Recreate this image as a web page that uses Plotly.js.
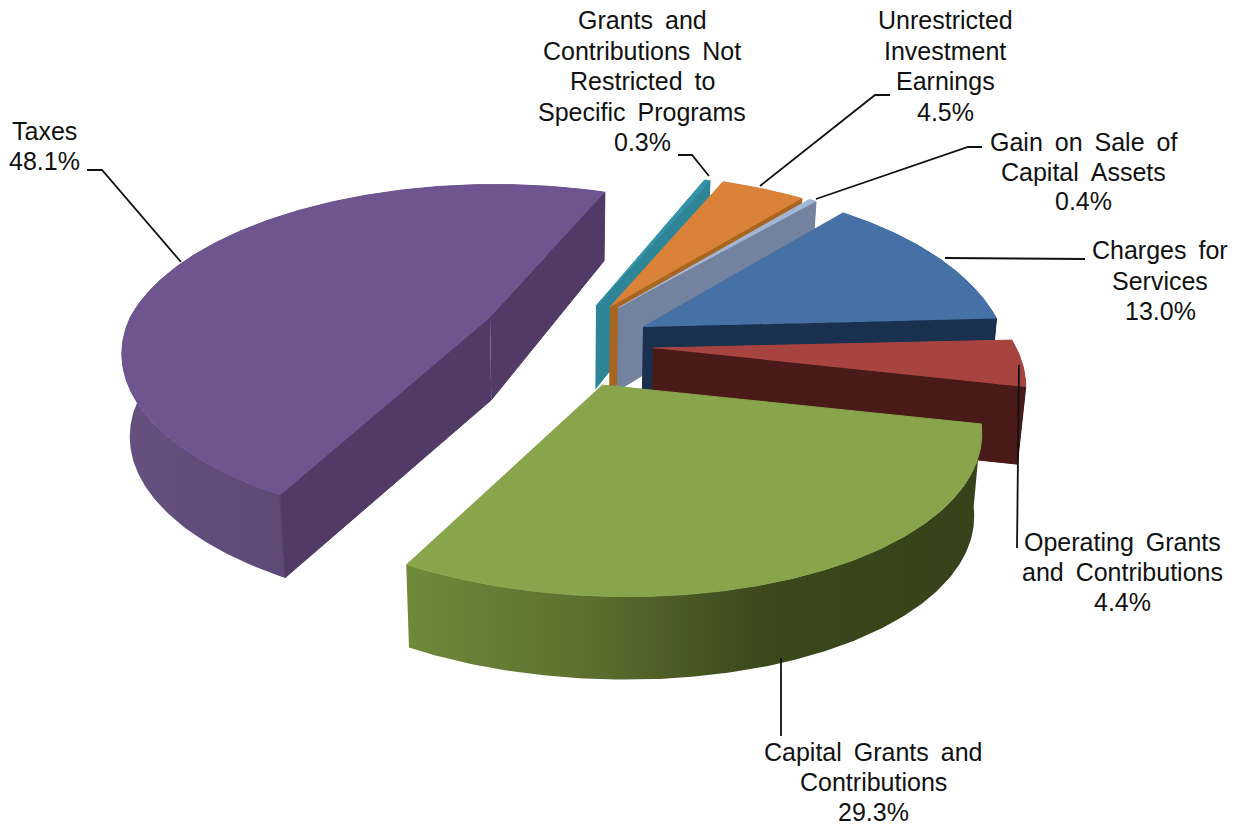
<!DOCTYPE html>
<html>
<head>
<meta charset="utf-8">
<script src="https://cdn.plot.ly/plotly-3.0.1.min.js"></script>
<style>html,body{margin:0;padding:0;background:#fff}#chart{width:1241px;height:826px}</style>
</head>
<body>
<div id="chart"></div>
<script>
// Revenue sources, clockwise from the top of the pie.
const categories = ['Charges for Services', 'Operating Grants and Contributions', 'Capital Grants and Contributions', 'Taxes', 'Grants and Contributions Not Restricted to Specific Programs', 'Unrestricted Investment Earnings', 'Gain on Sale of Capital Assets'];
const values = [13.0, 4.4, 29.3, 48.1, 0.3, 4.5, 0.4];

// Label wrapping, one entry per slice.
const labelLines = [['Charges for', 'Services'], ['Operating Grants', 'and Contributions'], ['Capital Grants and', 'Contributions'], ['Taxes'], ['Grants and', 'Contributions Not', 'Restricted to', 'Specific Programs'], ['Unrestricted', 'Investment', 'Earnings'], ['Gain on Sale of', 'Capital Assets']];
const labelCentreX = [1160, 1122, 873, 44, 642, 945, 1083];
const labelTopY = [250, 542, 752, 131, 20, 20, 142];
const labelLineGap = [30.5, 30, 30, 30, 30.5, 30.5, 29.5];

// Slice styling and explosion (screen offset of each wedge point from the pie centre).
const topColors = ['#4571a6', '#a84440', '#88a54b', '#6f558f', '#3193a9', '#d98238', '#a3b6d8'];
const wallColors = ['#19304f', '#4a1a18', '#56692c', '#513b66', '#2f8598', '#a8651f', '#73829f'];
const outerWallStops = [
  [[0, '#234a78'], [1, '#19304f']],
  [[0, '#5a201d'], [1, '#3f1513']],
  [[0, '#6f8a3a'], [0.33, '#5a6e2e'], [0.62, '#3a481c'], [1, '#36431a']],
  [[0, '#66507f'], [1, '#513b66']],
  [[0, '#2f8598'], [1, '#2f8598']],
  [[0, '#a8651f'], [1, '#a8651f']],
  [[0, '#73829f'], [1, '#73829f']]
];
const pullX = [68, 78, 27, -85, 21, 35, 43];
const pullY = [-28, -7, 30, -38, -49, -48, -47];
const reachX = [0.98, 0.995, 1, 0.985, 1, 1, 1];
const reachY = [1.07, 1, 1, 0.99, 1, 1, 1];
const wallScale = [1, 0.93, 1, 1, 1, 1, 1];
// Sideways lean of the near and far halves of each wedge under perspective.
const nearLean = [0, 0, 87, 16, 0, 0, 0];
const farLean = [-14, 0, 0, -29, 17, 23, 27];
const drawOrder = [3, 4, 5, 6, 0, 1, 2];

// Leader lines, from label to slice edge.
const leaderX = [[1085, 945], [1017, 1019], [781, 781], [87, 102, 181], [678, 692, 709], [890, 875, 760], [982, 968, 816]];
const leaderY = [[259, 258], [548, 365], [736, 658], [170, 170, 262], [155, 155, 176], [95, 95, 186], [147, 147, 199]];

// Projection of the tilted pie.
const pieCentreX = 575, pieCentreY = 355;
const radiusX = 365, radiusY = 164, perspective = 0.225, depth = 83;
const wallVanishX = 560, depthShrink = 0.018;
const firstAngle = 49.6;

function project(tipX, tipY, px, py, low, i) {
  const w = 1 + perspective * py;
  let sx = tipX + radiusX * reachX[i] * px / w;
  let sy = tipY - radiusY * reachY[i] * py / w;
  sx += (py < 0 ? nearLean[i] : farLean[i]) * (1 / w - 1);
  if (low) {
    sx += (wallVanishX - sx) * depthShrink;
    sy += wallScale[i] * (py > 0 ? depth / w : depth);
  }
  return [sx, sy];
}

function polygon(points, color, stops) {
  const trace = {
    type: 'scatter', mode: 'lines', hoverinfo: 'skip', showlegend: false,
    x: points.map(p => p[0]), y: points.map(p => p[1]),
    line: {width: stops ? 0 : 1, color: color}, fill: 'toself', fillcolor: color
  };
  if (stops) trace.fillgradient = {type: 'horizontal', colorscale: stops};
  return trace;
}

// Angular span of every slice, in degrees, from its share of the total.
const total = values.reduce((a, b) => a + b, 0);
const spans = [];
let cursor = firstAngle;
values.forEach(v => {
  const next = cursor - v / total * 360;
  spans.push([cursor, next]);
  cursor = next;
});

const traces = [];
drawOrder.forEach(i => {
  const tipX = pieCentreX + pullX[i], tipY = pieCentreY + pullY[i];
  const rim = [];
  const steps = Math.max(6, Math.round((spans[i][0] - spans[i][1]) * 1.5));
  for (let k = 0; k <= steps; k++) {
    const a = (spans[i][0] + (spans[i][1] - spans[i][0]) * k / steps) * Math.PI / 180;
    rim.push([Math.cos(a), Math.sin(a)]);
  }
  const up = p => project(tipX, tipY, p[0], p[1], false, i);
  const down = p => project(tipX, tipY, p[0], p[1], true, i);
  const first = rim[0], last = rim[rim.length - 1];
  // Curved outer wall
  traces.push(polygon(rim.map(up).concat(rim.slice().reverse().map(down)), wallColors[i], outerWallStops[i]));
  // Radial walls that face the viewer
  if (first[0] < 0) traces.push(polygon([up([0, 0]), up(first), down(first), down([0, 0])], wallColors[i]));
  if (last[0] > 0) traces.push(polygon([up([0, 0]), up(last), down(last), down([0, 0])], wallColors[i]));
  // Top face
  traces.push(polygon([up([0, 0])].concat(rim.map(up)), topColors[i]));
});

leaderX.forEach((xs, i) => {
  traces.push({type: 'scatter', mode: 'lines', hoverinfo: 'skip', showlegend: false,
    x: xs, y: leaderY[i], line: {color: '#111', width: 1.8}});
});

const annotations = [];
labelLines.forEach((lines, i) => {
  lines.concat([values[i].toFixed(1) + '%']).forEach((text, k) => {
    annotations.push({
      xref: 'x', yref: 'y', x: labelCentreX[i], y: labelTopY[i] + k * labelLineGap[i],
      // Justified look: every word gap is opened by a thin space.
      text: text.replace(/ /g, ' \u2009'), showarrow: false, xanchor: 'center', yanchor: 'middle',
      font: {family: '"Liberation Sans", Arial, sans-serif', size: 25, color: '#111'}
    });
  });
});

Plotly.newPlot('chart', traces, {
  width: 1241, height: 826,
  margin: {l: 0, r: 0, t: 0, b: 0},
  paper_bgcolor: '#fff', plot_bgcolor: '#fff',
  showlegend: false,
  xaxis: {range: [0, 1241], visible: false, fixedrange: true},
  yaxis: {range: [826, 0], visible: false, fixedrange: true},
  annotations: annotations
}, {displayModeBar: false, staticPlot: true});
</script>
</body>
</html>
